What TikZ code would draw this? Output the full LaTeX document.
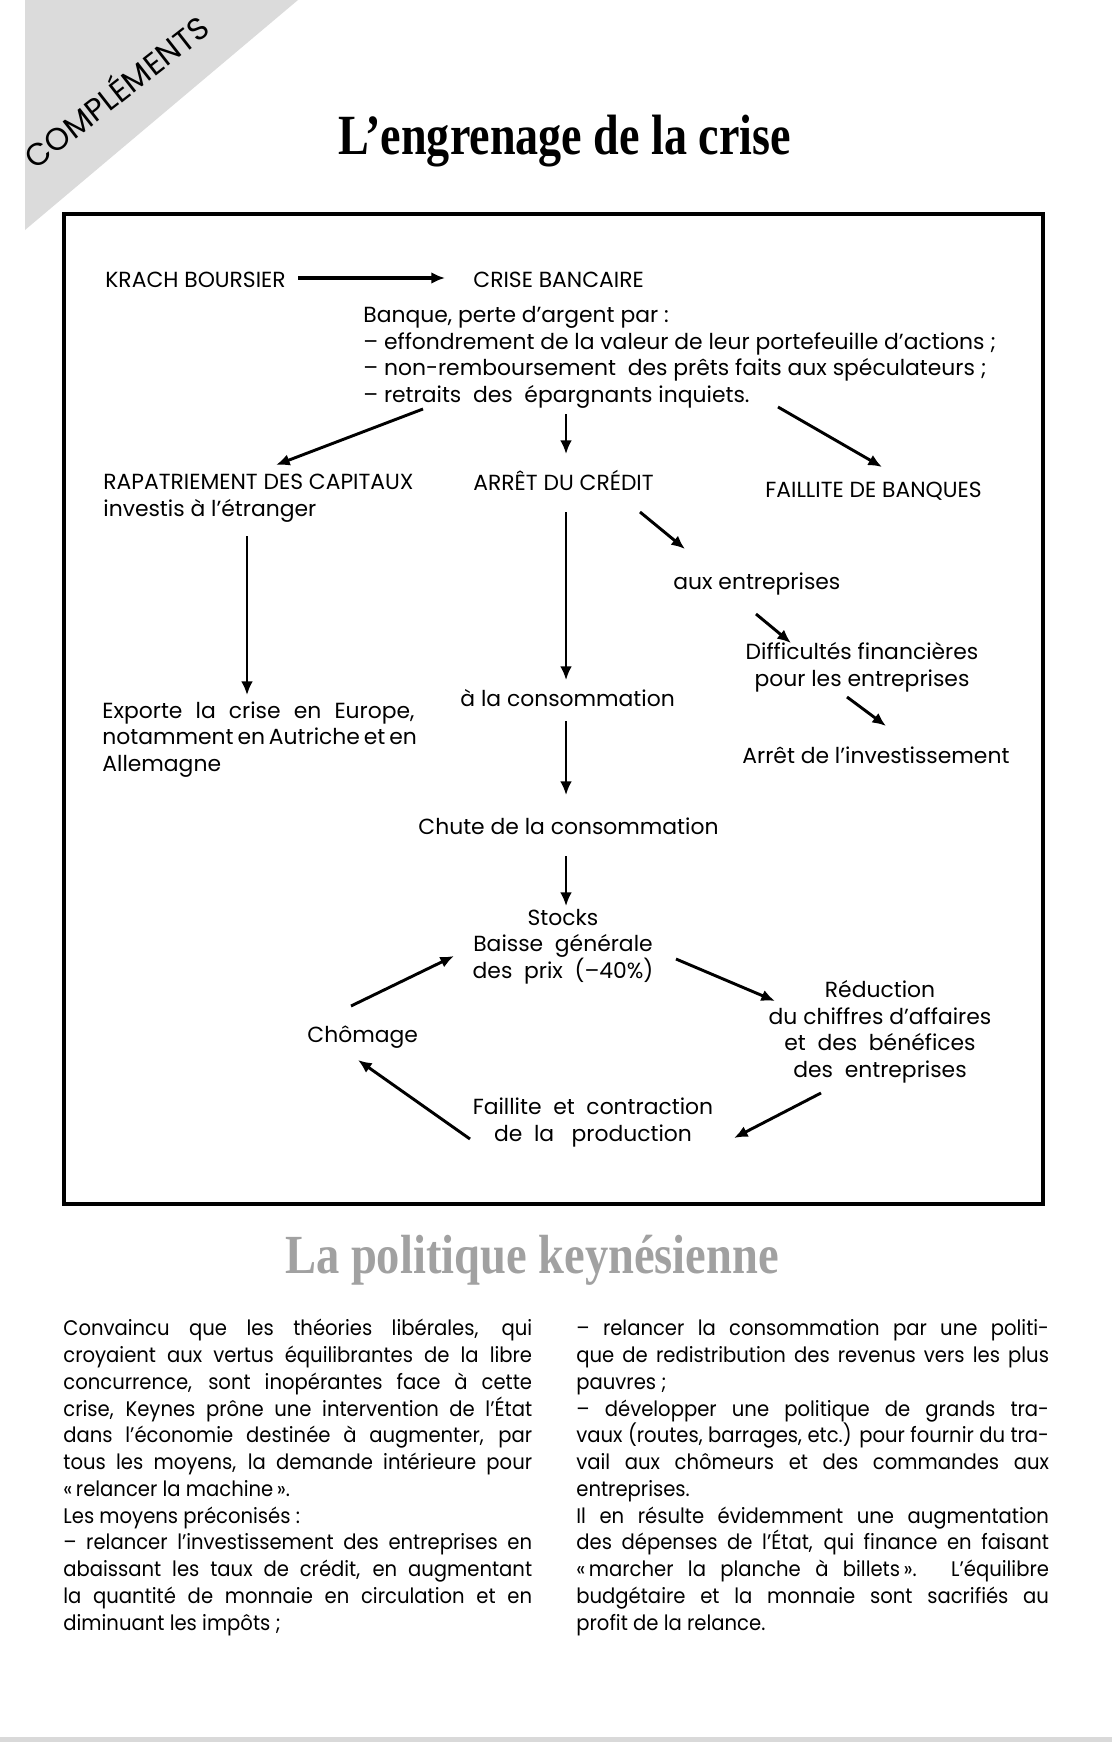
\documentclass[tikz,border=0pt]{standalone}
\usepackage{fontspec}
\usepackage{graphicx}
\setmainfont{Poppins}
\newfontfamily\corpsfont{Poppins}[FakeStretch=0.93]
\newfontfamily\titrefont{Liberation Serif}
\usetikzlibrary{arrows.meta,calc}

\definecolor{grisfond}{gray}{0.86}
\definecolor{gristitre}{gray}{0.63}
\definecolor{grisbas}{gray}{0.85}

\newcommand\just[2]{\makebox[#1][s]{#2}}

\tikzset{
  texte/.style={inner sep=0pt,font=\fontsize{11.2}{13.5}\selectfont},
  corps/.style={inner sep=0pt,align=left,font=\corpsfont\fontsize{10.8}{13.7}\selectfont},
  fleche/.style={line width=1.1pt,-{Latex[length=7pt,width=6pt]}},
  flechediag/.style={fleche,line width=1.5pt},
}

\begin{document}
\begin{tikzpicture}[x=0.018cm,y=-0.018cm]
\useasboundingbox (0,0) rectangle (1112,1742);
% coin gris et titre
\fill[grisfond] (25,0) -- (298,0) -- (25,230) -- cycle;
\node[rotate=38,inner sep=0pt,font=\fontsize{16}{16}\selectfont] (complements) at (115,90) {COMPLÉMENTS};
\node[anchor=base,inner sep=0pt] (titre) at (565,154)
  {\resizebox{8.14cm}{0.71cm}{\titrefont\bfseries L’engrenage de la crise}};
% cadre
\draw[line width=1.8pt] (64,214) rectangle (1043,1204);

% haut du schema
\node[texte,anchor=base west] (krach) at (105,287) {KRACH BOURSIER};
\node[texte,anchor=base west] (crise) at (473,287) {CRISE BANCAIRE};
\node[texte,anchor=base west,align=left] (banque) at (363,402)
  {Banque, perte d’argent par :\\
   – effondrement de la valeur de leur portefeuille d’actions ;\\
   – non-remboursement \ des prêts faits aux spéculateurs ;\\
   – retraits \ des \ épargnants inquiets.};
\draw[fleche,line width=1.7pt] ($(krach.base west)+(193,-9)$) -- ($(crise.base west)+(-28,-9)$);

% deuxieme rangee
\node[texte,anchor=base west,align=left] (rapat) at (103,516)
  {RAPATRIEMENT DES CAPITAUX\\investis à l’étranger};
\node[texte,anchor=base west] (credit) at (473,490) {ARRÊT DU CRÉDIT};
\node[texte,anchor=base west] (faillite) at (765,497) {FAILLITE DE BANQUES};
\draw[flechediag] ($(banque.base west)+(60,7)$) -- ($(rapat.base west)+(173,-51)$);
\draw[fleche] ($(banque.base west)+(203,12)$) -- ($(credit.base west)+(93,-36)$);
\draw[flechediag] ($(banque.base west)+(415,5)$) -- ($(faillite.base west)+(117,-30)$);

% branche gauche
\node[texte,anchor=base west,align=left] (exporte) at (102,771)
  {\just{5.62cm}{Exporte la crise en Europe,}\\
   \just{5.62cm}{notamment en Autriche et en}\\
   Allemagne};
\draw[fleche] ($(rapat.base west)+(144,20)$) -- ($(exporte.base west)+(145,-76)$);

% branche du milieu
\node[texte,anchor=base west] (conso) at (460,706) {à la consommation};
\node[texte,anchor=base west] (chute) at (418,834) {Chute de la consommation};
\draw[fleche] ($(credit.base west)+(93,22)$) -- ($(conso.base west)+(106,-26)$);
\draw[fleche] ($(conso.base west)+(106,15)$) -- ($(chute.base west)+(148,-39)$);

% branche droite
\node[texte,anchor=base west] (aux) at (673,589) {aux entreprises};
\node[texte,anchor=base,align=center] (diff) at (862,686)
  {Difficultés financières\\pour les entreprises};
\node[texte,anchor=base west] (arret) at (742,763) {Arrêt de l’investissement};
\draw[flechediag] ($(credit.base west)+(167,22)$) -- ($(aux.base west)+(12,-40)$);
\draw[flechediag] ($(aux.base west)+(83,25)$) -- ($(diff.base)+(-71,-43)$);
\draw[flechediag] ($(diff.base)+(-15,11)$) -- ($(arret.base west)+(144,-37)$);

% le cercle
\node[texte,anchor=base,align=center] (stocks) at (563,978)
  {Stocks\\Baisse \ générale\\des \ prix \ (–40\%)};
\node[texte,anchor=base,align=center] (reduc) at (880,1077)
  {Réduction\\du chiffres d’affaires\\et \ des \ bénéfices\\des \ entreprises};
\node[texte,anchor=base,align=center] (contraction) at (593,1141)
  {Faillite \ et \ contraction\\de \ la \ \ production};
\node[texte,anchor=base west] (chomage) at (307,1042) {Chômage};
\draw[fleche] ($(chute.base west)+(148,22)$) -- ($(stocks.base)+(3,-72)$);
\draw[flechediag] ($(stocks.base)+(113,-19)$) -- ($(reduc.base)+(-105,-76)$);
\draw[flechediag] ($(reduc.base)+(-59,16)$) -- ($(contraction.base)+(141,-3)$);
\draw[flechediag] ($(contraction.base)+(-123,-2)$) -- ($(chomage.base west)+(51,18)$);
\draw[flechediag] ($(chomage.base west)+(44,-36)$) -- ($(stocks.base)+(-109,-22)$);

% texte du bas
\node[anchor=base,inner sep=0pt,text=gristitre] (politique) at (532,1273)
  {\resizebox{8.89cm}{0.69cm}{\titrefont\bfseries La politique keynésienne}};
\node[corps,anchor=base west] (gauche) at (63,1630)
  {\just{8.44cm}{Convaincu que les théories libérales, qui}\\
   \just{8.44cm}{croyaient aux vertus équilibrantes de la libre}\\
   \just{8.44cm}{concurrence, sont inopérantes face à cette}\\
   \just{8.44cm}{crise, Keynes prône une intervention de l’État}\\
   \just{8.44cm}{dans l’économie destinée à augmenter, par}\\
   \just{8.44cm}{tous les moyens, la demande intérieure pour}\\
   «\,relancer la machine\,».\\
   Les moyens préconisés :\\
   \just{8.44cm}{– relancer l’investissement des entreprises en}\\
   \just{8.44cm}{abaissant les taux de crédit, en augmentant}\\
   \just{8.44cm}{la quantité de monnaie en circulation et en}\\
   diminuant les impôts ;};
\node[corps,anchor=base west] (droite) at (576,1630)
  {\just{8.51cm}{– relancer la consommation par une politi-}\\
   \just{8.51cm}{que de redistribution des revenus vers les plus}\\
   pauvres ;\\
   \just{8.51cm}{– développer une politique de grands tra-}\\
   \just{8.51cm}{vaux (routes, barrages, etc.) pour fournir du tra-}\\
   \just{8.51cm}{vail aux chômeurs et des commandes aux}\\
   entreprises.\\
   \just{8.51cm}{Il en résulte évidemment une augmentation}\\
   \just{8.51cm}{des dépenses de l’État, qui finance en faisant}\\
   \just{8.51cm}{«\,marcher la planche à billets\,». L’équilibre}\\
   \just{8.51cm}{budgétaire et la monnaie sont sacrifiés au}\\
   profit de la relance.};
\fill[grisbas] (0,1737) rectangle (1112,1742);
\end{tikzpicture}
\end{document}
